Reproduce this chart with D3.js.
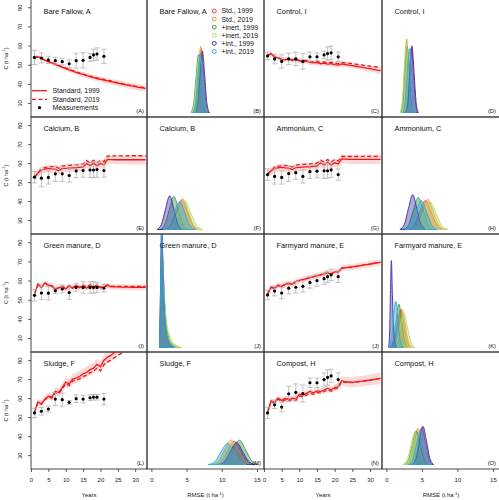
<!DOCTYPE html>
<html><head><meta charset="utf-8">
<script src="https://cdn.jsdelivr.net/npm/d3@7"></script>
<style>body{margin:0;background:#fff}svg{display:block}text{font-family:"Liberation Sans",Arial,Helvetica,sans-serif}</style>
</head><body><svg id="c" width="499" height="500"></svg>
<script>
// ---------------- data ----------------
const years = [1,2,3,4,5,6,7,8,9,10,11,12,13,14,15,16,17,18,19,20,21,22,23,24,25,26,27,28,29,30,31,32,33];
const measYears = [1,3,5,7,9,11,13,15,17,18,19,21];
const cTicks = [30,40,50,60,70,80];
const yearTicks = [0,5,10,15,20,25,30];
const rmseTicks = [0,5,10,15];
const rowTitles = [["Bare Fallow, A","Control, I"],["Calcium, B","Ammonium, C"],["Green manure, D","Farmyard manure, E"],["Sludge, F","Compost, H"]];
const panelLetters = [["(A)","(B)","(C)","(D)"],["(E)","(F)","(G)","(H)"],["(I)","(J)","(J)","(K)"],["(L)","(M)","(N)","(O)"]];
const variantNames = ["Std., 1999","Std., 2019","+inert, 1999","+inert, 2019","+int., 1999","+int., 2019"];
const variantColors = ["#E8474C","#F29A38","#3E9B4A","#B5DB6A","#3B2FA8","#2FA9E0"];
const lineLegend = ["Standard, 1999","Standard, 2019","Measurements"];

// Bare fallow
const bfMeas = [53.8,53.5,52.5,52.1,51.6,50.5,52.1,52.3,53.8,55.1,55.6,54.4];
const bfErr  = [3.7,2.6,1.9,1.8,1.7,2.0,3.9,4.0,2.2,3.0,3.2,3.7];
const bf1999 = [53.5,54.2,53.3,52.4,51.6,50.9,50.2,49.4,48.7,48.0,47.3,46.7,46.0,45.4,44.9,44.3,43.8,43.3,42.8,42.4,42.0,41.6,41.2,40.8,40.4,40.0,39.6,39.2,38.9,38.5,38.2,37.9,37.6];
const bf2019 = [53.5,54.2,53.3,52.5,51.7,51.0,50.3,49.6,48.9,48.2,47.5,46.9,46.3,45.7,45.1,44.6,44.1,43.6,43.1,42.7,42.3,41.9,41.5,41.1,40.7,40.3,39.9,39.5,39.2,38.8,38.5,38.2,37.9];
const bfBand = [1.0,1.0,1.0,1.0,1.1,1.1,1.1,1.1,1.2,1.2,1.2,1.2,1.3,1.3,1.3,1.3,1.4,1.4,1.4,1.4,1.5,1.5,1.5,1.5,1.6,1.6,1.6,1.6,1.7,1.7,1.7,1.8,1.8];
// Control
const ctMeas = [54.6,53.0,51.7,53.0,53.0,51.7,54.1,54.1,55.1,55.8,56.2,54.1];
const ctErr  = [2.0,2.5,3.5,3.0,3.5,4.0,2.5,2.0,2.0,3.5,3.5,2.5];
const ct1999 = [54.7,55.8,54.1,53.5,52.8,52.5,53.0,52.3,52.6,52.0,51.6,51.9,51.2,51.0,51.2,50.5,50.8,50.3,50.6,50.0,49.8,50.4,50.1,49.8,49.5,49.2,48.9,48.6,48.2,47.9,47.6,47.2,46.9];
const ct2019 = [54.7,55.8,54.1,53.6,52.9,52.7,53.2,52.5,52.9,52.3,52.0,52.3,51.7,51.5,51.7,51.1,51.4,51.0,51.3,50.8,50.6,51.2,51.0,50.8,50.5,50.3,50.0,49.8,49.5,49.3,49.0,48.8,48.6];
const ctBand = [1.2,1.2,1.2,1.2,1.2,1.2,1.2,1.2,1.2,1.2,1.3,1.3,1.3,1.3,1.3,1.3,1.3,1.3,1.4,1.4,1.4,1.4,1.4,1.4,1.5,1.5,1.5,1.5,1.5,1.6,1.6,1.6,1.6];
// Calcium
const caMeas = [52.6,52.1,52.5,54.4,54.4,53.5,55.9,56.1,56.4,56.4,56.6,56.1];
const caErr  = [3.0,4.5,3.5,4.0,4.0,3.5,3.5,3.5,4.0,4.0,4.0,3.5];
const ca1999 = [52.6,54.8,56.4,56.8,57.2,57.0,56.9,56.0,57.2,57.3,57.4,57.5,57.6,57.8,58.0,59.8,58.6,60.0,58.6,59.8,59.2,62.0,61.9,61.8,61.8,61.8,61.8,61.8,61.8,61.8,61.8,61.8,61.8];
const ca2019 = [52.6,55.0,57.0,57.6,58.0,58.2,58.2,57.3,58.5,58.7,58.8,59.0,59.1,59.3,59.5,61.3,60.1,61.5,60.2,61.4,60.8,63.7,63.8,63.8,63.8,63.8,63.8,63.9,63.9,63.9,63.9,63.9,63.9];
const caBand = [2.0,2.0,2.0,2.0,2.0,2.0,2.0,2.0,2.0,2.0,2.1,2.1,2.1,2.1,2.1,2.2,2.2,2.2,2.2,2.2,2.3,2.3,2.3,2.3,2.4,2.4,2.4,2.4,2.5,2.5,2.5,2.5,2.5];
// Ammonium
const amMeas = [54.0,53.0,52.5,54.5,55.0,53.0,55.5,55.8,56.0,56.0,56.5,54.0];
const amErr  = [3.0,4.0,3.5,4.0,3.5,3.5,3.5,3.5,4.0,4.0,4.0,3.0];
const am1999 = [54.0,56.0,57.2,57.5,57.8,57.5,57.4,56.6,57.7,57.8,57.9,58.0,58.1,58.3,58.5,60.2,59.0,60.4,59.0,60.2,59.6,62.2,62.1,62.0,62.0,62.0,62.0,62.0,62.0,62.0,62.0,62.0,62.0];
const am2019 = [54.0,56.2,57.8,58.3,58.6,58.7,58.7,57.9,59.0,59.2,59.3,59.5,59.6,59.8,60.0,61.7,60.5,61.9,60.6,61.8,61.2,63.5,63.5,63.5,63.5,63.5,63.5,63.6,63.6,63.6,63.6,63.6,63.6];
const amBand = [2.0,2.0,2.0,2.0,2.0,2.0,2.0,2.0,2.0,2.0,2.1,2.1,2.1,2.1,2.1,2.2,2.2,2.2,2.2,2.2,2.3,2.3,2.3,2.3,2.4,2.4,2.4,2.4,2.5,2.5,2.5,2.5,2.5];
// Green manure
const gmMeas = [52.3,53.5,53.4,54.7,55.6,53.7,56.4,56.4,56.4,56.4,56.4,56.1];
const gmErr  = [3.0,3.5,3.5,1.5,2.0,3.5,2.0,3.0,3.0,3.0,2.5,2.0];
const gm1999 = [53.0,58.0,56.5,58.7,57.6,57.2,55.5,56.2,56.8,55.6,57.2,56.0,57.4,56.2,57.3,56.0,57.5,56.3,57.4,56.2,56.6,57.4,56.8,56.7,56.7,56.6,56.6,56.6,56.5,56.5,56.5,56.5,56.5];
const gm2019 = [53.0,58.0,56.5,58.7,57.6,57.2,55.6,56.3,56.9,55.8,57.4,56.2,57.6,56.5,57.6,56.3,57.8,56.6,57.7,56.5,56.9,57.7,57.1,57.0,57.0,57.0,57.0,56.9,56.9,56.9,56.9,56.9,56.9];
const gmBand = [1.5,1.5,1.5,1.5,1.5,1.5,1.5,1.5,1.5,1.5,1.5,1.5,1.5,1.5,1.5,1.5,1.5,1.5,1.5,1.5,1.5,1.5,1.5,1.5,1.5,1.5,1.5,1.5,1.5,1.5,1.5,1.5,1.5];
// Farmyard manure
const fyMeas = [52.5,54.5,53.5,56.0,56.5,57.0,59.0,60.0,61.0,62.0,63.0,62.0];
const fyErr  = [2.5,2.5,3.0,3.0,3.0,3.0,3.0,3.0,3.0,3.0,3.0,3.0];
const fy1999 = [53.0,56.5,56.0,57.5,57.0,58.0,58.5,58.0,59.5,60.0,60.5,61.0,61.5,62.0,62.5,63.0,63.5,64.0,63.5,64.5,64.5,66.5,66.7,66.9,67.1,67.4,67.7,68.0,68.3,68.6,68.9,69.2,69.5];
const fy2019 = [53.0,56.5,56.0,57.5,57.0,58.0,58.5,58.0,59.5,60.0,60.5,61.0,61.5,62.0,62.5,63.0,63.5,64.0,63.5,64.5,64.5,66.5,66.7,66.9,67.1,67.4,67.7,68.0,68.3,68.6,68.9,69.2,69.5];
const fyBand = [1.5,1.5,1.5,1.5,1.5,1.5,1.5,1.5,1.5,1.5,1.5,1.5,1.5,1.5,1.5,1.5,1.5,1.5,1.5,1.5,1.5,1.6,1.6,1.6,1.6,1.6,1.6,1.6,1.6,1.6,1.6,1.6,1.6];
// Sludge
const slMeas = [52.2,53.1,54.3,59.5,59.2,57.8,59.7,59.5,60.2,60.5,60.5,59.5];
const slErr  = [2.5,2.0,1.5,3.5,3.5,1.0,2.0,2.0,1.5,1.5,1.5,3.0];
const sl1999 = [52.5,58.0,57.0,59.5,61.0,60.5,63.5,63.0,65.5,68.5,67.5,70.0,70.5,71.5,72.8,73.5,75.0,75.8,77.8,76.5,80.0,81.5,82.5,84.0,85.5,86.5,87.5,88.5,89.5,90.5,91.5,92.5,93.5];
const sl2019 = [52.5,57.8,56.8,59.2,60.6,60.0,62.9,62.4,64.8,67.6,66.6,69.0,69.4,70.3,71.5,72.0,73.4,74.0,75.8,74.4,77.6,79.0,80.0,81.3,82.6,83.6,84.6,85.6,86.5,87.4,88.3,89.2,90.0];
const slBand = [1.5,1.6,1.7,1.8,1.9,2.0,2.1,2.2,2.3,2.4,2.5,2.6,2.7,2.8,2.9,3.0,3.0,3.1,3.1,3.2,3.2,3.3,3.3,3.4,3.4,3.5,3.5,3.5,3.5,3.5,3.5,3.5,3.5];
// Compost
const coMeas = [52.2,56.5,55.3,62.3,63.0,62.4,68.1,68.1,69.8,70.9,71.7,69.8];
const coErr  = [3.0,2.0,2.5,4.0,4.5,4.5,2.5,2.5,3.5,4.0,3.5,3.5];
const co1999 = [52.2,58.6,57.9,60.0,58.8,59.8,59.3,60.0,59.6,62.0,61.5,62.5,63.5,62.8,63.8,63.5,64.3,65.2,64.3,65.6,66.0,69.2,68.6,68.5,68.3,68.6,68.8,69.0,69.3,69.5,69.8,70.1,70.4];
const co2019 = [52.2,58.3,57.5,59.5,58.2,59.1,58.6,59.2,58.8,61.2,60.7,61.6,62.6,62.0,63.0,62.7,63.5,64.4,63.6,64.9,65.4,68.8,68.3,68.3,68.2,68.5,68.7,69.0,69.3,69.5,69.8,70.1,70.4];
const coBand = [1.5,1.5,1.5,1.5,1.5,1.5,1.5,1.5,1.5,1.5,1.5,1.5,1.5,1.5,1.6,1.6,1.6,1.6,1.7,1.7,1.8,2.4,2.5,2.6,2.6,2.7,2.7,2.8,2.8,2.9,2.9,3.0,3.0];

// RMSE densities: per variant {x:[RMSE], d:[density]}
const bfRmse = [
 {x:[6.11,6.46,6.77,7.10,7.43,7.74,8.09], d:[0,0.17,0.66,1.10,0.66,0.17,0]},
 {x:[6.01,6.36,6.67,7.00,7.33,7.64,7.99], d:[0,0.17,0.68,1.14,0.68,0.17,0]},
 {x:[5.62,6.00,6.34,6.70,7.06,7.40,7.78], d:[0,0.15,0.60,1.00,0.60,0.15,0]},
 {x:[5.69,6.08,6.43,6.80,7.17,7.52,7.91], d:[0,0.15,0.59,0.98,0.59,0.15,0]},
 {x:[6.26,6.61,6.92,7.25,7.58,7.89,8.24], d:[0,0.16,0.64,1.06,0.64,0.16,0]},
 {x:[5.87,6.25,6.59,6.95,7.31,7.65,8.03], d:[0,0.15,0.60,1.00,0.60,0.15,0]}];
const ctRmse = [
 {x:[2.60,2.92,3.20,3.50,3.80,4.09,4.40], d:[0,0.17,0.67,1.12,0.67,0.17,0]},
 {x:[2.01,2.30,2.57,2.85,3.13,3.40,3.69], d:[0,0.19,0.76,1.27,0.76,0.19,0]},
 {x:[2.00,2.32,2.60,2.90,3.20,3.49,3.80], d:[0,0.17,0.69,1.15,0.69,0.17,0]},
 {x:[1.90,2.22,2.50,2.80,3.10,3.39,3.70], d:[0,0.18,0.72,1.20,0.72,0.18,0]},
 {x:[2.70,3.02,3.30,3.60,3.90,4.19,4.50], d:[0,0.17,0.69,1.15,0.69,0.17,0]},
 {x:[2.29,2.63,2.93,3.25,3.57,3.87,4.21], d:[0,0.17,0.66,1.10,0.66,0.17,0]}];
const caRmse = [
 {x:[1.90,2.74,3.50,4.30,5.10,5.86,6.70], d:[0,0.08,0.30,0.50,0.30,0.08,0]},
 {x:[2.00,2.84,3.60,4.40,5.20,5.96,6.80], d:[0,0.08,0.32,0.53,0.32,0.08,0]},
 {x:[1.25,1.93,2.55,3.20,3.85,4.47,5.15], d:[0,0.09,0.34,0.57,0.34,0.09,0]},
 {x:[2.15,3.04,3.85,4.70,5.55,6.36,7.25], d:[0,0.08,0.30,0.50,0.30,0.08,0]},
 {x:[0.80,1.43,2.00,2.60,3.20,3.77,4.40], d:[0,0.09,0.35,0.58,0.35,0.09,0]},
 {x:[1.75,2.54,3.25,4.00,4.75,5.46,6.25], d:[0,0.07,0.29,0.48,0.29,0.07,0]}];
const amRmse = [
 {x:[3.10,3.94,4.70,5.50,6.30,7.06,7.90], d:[0,0.08,0.30,0.50,0.30,0.08,0]},
 {x:[3.40,4.24,5.00,5.80,6.60,7.36,8.20], d:[0,0.08,0.31,0.52,0.31,0.08,0]},
 {x:[2.40,3.14,3.80,4.50,5.20,5.87,6.60], d:[0,0.08,0.33,0.55,0.33,0.08,0]},
 {x:[3.55,4.44,5.25,6.10,6.95,7.76,8.65], d:[0,0.07,0.29,0.48,0.29,0.07,0]},
 {x:[1.90,2.53,3.10,3.70,4.30,4.87,5.50], d:[0,0.09,0.36,0.60,0.36,0.09,0]},
 {x:[2.65,3.44,4.15,4.90,5.65,6.36,7.15], d:[0,0.08,0.30,0.50,0.30,0.08,0]}];
const gmRmse = [
 {x:[1.20,1.35,1.50,1.65,1.90,2.20,2.80,3.40], d:[0,0.90,1.95,1.45,0.70,0.25,0.06,0]},
 {x:[1.20,1.35,1.50,1.70,1.95,2.30,2.90,3.50], d:[0,0.90,1.90,1.30,0.60,0.22,0.05,0]},
 {x:[1.20,1.35,1.50,1.70,2.00,2.40,3.00,3.80], d:[0,0.85,1.80,1.20,0.55,0.20,0.06,0]},
 {x:[1.20,1.35,1.52,1.75,2.10,2.60,3.30,4.30], d:[0,0.80,1.70,1.10,0.50,0.20,0.06,0]},
 {x:[1.15,1.30,1.45,1.60,1.80,2.10,2.60,3.20], d:[0,1.00,2.10,1.50,0.70,0.25,0.06,0]},
 {x:[1.15,1.30,1.45,1.60,1.85,2.15,2.70,3.30], d:[0,0.95,2.00,1.45,0.65,0.22,0.05,0]}];
const fyRmse = [
 {x:[0.60,1.10,1.55,2.00,2.45,2.90,3.40], d:[0,0.10,0.40,0.66,0.40,0.10,0]},
 {x:[0.80,1.30,1.75,2.20,2.65,3.10,3.60], d:[0,0.10,0.40,0.66,0.40,0.10,0]},
 {x:[0.50,0.95,1.35,1.75,2.15,2.55,3.00], d:[0,0.11,0.45,0.75,0.45,0.11,0]},
 {x:[0.90,1.45,1.95,2.45,2.95,3.45,4.00], d:[0,0.09,0.36,0.60,0.36,0.09,0]},
 {x:[0.30,0.45,0.58,0.70,0.85,1.05,1.40], d:[0,0.25,1.00,1.50,0.90,0.25,0]},
 {x:[0.40,0.70,1.00,1.30,1.60,1.95,2.40], d:[0,0.12,0.50,0.80,0.50,0.12,0]}];
const slRmse = [
 {x:[9.10,10.05,10.90,11.80,12.70,13.55,14.50], d:[0,0.06,0.24,0.40,0.24,0.06,0]},
 {x:[8.60,9.55,10.40,11.30,12.20,13.05,14.00], d:[0,0.06,0.25,0.42,0.25,0.06,0]},
 {x:[9.80,10.75,11.60,12.50,13.40,14.25,15.20], d:[0,0.06,0.25,0.42,0.25,0.06,0]},
 {x:[8.65,9.65,10.55,11.50,12.45,13.35,14.35], d:[0,0.06,0.23,0.38,0.23,0.06,0]},
 {x:[9.55,10.44,11.25,12.10,12.95,13.76,14.65], d:[0,0.06,0.23,0.38,0.23,0.06,0]},
 {x:[8.10,9.05,9.90,10.80,11.70,12.55,13.50], d:[0,0.05,0.22,0.36,0.22,0.05,0]}];
const coRmse = [
 {x:[3.50,4.03,4.50,5.00,5.50,5.98,6.50], d:[0,0.10,0.38,0.64,0.38,0.10,0]},
 {x:[2.80,3.38,3.90,4.45,5.00,5.52,6.10], d:[0,0.09,0.37,0.62,0.37,0.09,0]},
 {x:[2.55,3.13,3.65,4.20,4.75,5.27,5.85], d:[0,0.09,0.35,0.58,0.35,0.09,0]},
 {x:[2.35,2.93,3.45,4.00,4.55,5.07,5.65], d:[0,0.08,0.33,0.55,0.33,0.08,0]},
 {x:[3.65,4.18,4.65,5.15,5.65,6.13,6.65], d:[0,0.10,0.40,0.66,0.40,0.10,0]},
 {x:[3.15,3.73,4.25,4.80,5.35,5.87,6.45], d:[0,0.09,0.36,0.60,0.36,0.09,0]}];

// ---------------- layout ----------------
const xEdges = [31,147,264,382,500];
const yEdges = [-1,117,234,352,469];
const svg = d3.select("#c");
const FONT = '"Liberation Sans",Arial,Helvetica,sans-serif';

const timeSeries = [
  [ {m:bfMeas,e:bfErr,a:bf1999,b:bf2019,w:bfBand}, {m:ctMeas,e:ctErr,a:ct1999,b:ct2019,w:ctBand} ],
  [ {m:caMeas,e:caErr,a:ca1999,b:ca2019,w:caBand}, {m:amMeas,e:amErr,a:am1999,b:am2019,w:amBand} ],
  [ {m:gmMeas,e:gmErr,a:gm1999,b:gm2019,w:gmBand}, {m:fyMeas,e:fyErr,a:fy1999,b:fy2019,w:fyBand} ],
  [ {m:slMeas,e:slErr,a:sl1999,b:sl2019,w:slBand}, {m:coMeas,e:coErr,a:co1999,b:co2019,w:coBand} ]
];
const densities = [[bfRmse,ctRmse],[caRmse,amRmse],[gmRmse,fyRmse],[slRmse,coRmse]];

const defs = svg.append("defs");

for (let r = 0; r < 4; r++) {
  for (let c = 0; c < 4; c++) {
    const x0 = xEdges[c], x1 = xEdges[c+1], y0 = yEdges[r], y1 = yEdges[r+1];
    const id = "clip" + r + "_" + c;
    defs.append("clipPath").attr("id", id).append("rect")
      .attr("x", x0).attr("y", Math.max(y0,0)).attr("width", x1 - x0).attr("height", y1 - Math.max(y0,0));
    const g = svg.append("g");
    const pg = g.append("g").attr("clip-path", `url(#${id})`);
    const isTime = (c % 2 === 0);
    const pair = Math.floor(c / 2);
    if (isTime) {
      const ts = timeSeries[r][pair];
      const xs = d3.scaleLinear().domain([0,33.4]).range([x0,x1]);
      const ys = d3.scaleLinear().domain([22.7,84.3]).range([y1,y0]);
      const band = d3.area().x((d,i)=>xs(years[i])).y0((d,i)=>ys(ts.a[i]-ts.w[i])).y1((d,i)=>ys(ts.a[i]+ts.w[i]));
      pg.append("path").attr("d", band(years)).attr("fill","rgba(242,80,80,0.22)");
      const line = arr => d3.line().x((d,i)=>xs(years[i])).y((d,i)=>ys(arr[i]))(years);
      pg.append("path").attr("d", line(ts.b)).attr("fill","none").attr("stroke","#F01818").attr("stroke-width",1.3).attr("stroke-dasharray","4,2.5");
      pg.append("path").attr("d", line(ts.a)).attr("fill","none").attr("stroke","#F01818").attr("stroke-width",1.3);
      // error bars
      measYears.forEach((yr,i)=>{
        const cx = xs(yr), lo = ys(ts.m[i]-ts.e[i]), hi = ys(ts.m[i]+ts.e[i]);
        pg.append("line").attr("x1",cx).attr("x2",cx).attr("y1",lo).attr("y2",hi).attr("stroke","#b0b0b0").attr("stroke-width",0.8);
        [lo,hi].forEach(yy=>pg.append("line").attr("x1",cx-2.6).attr("x2",cx+2.6).attr("y1",yy).attr("y2",yy).attr("stroke","#b0b0b0").attr("stroke-width",0.8));
      });
      pg.selectAll("circle.m").data(measYears).enter().append("circle")
        .attr("cx",d=>xs(d)).attr("cy",(d,i)=>ys(ts.m[i])).attr("r",1.6).attr("fill","#000");
      if (c === 0) {
        const ax = g.append("g").attr("transform",`translate(${x0},0)`)
          .call(d3.axisLeft(ys).tickValues(cTicks).tickSize(3).tickFormat(d3.format("d")));
        ax.select(".domain").remove();
        ax.selectAll("line").attr("stroke","#333").attr("stroke-width",0.8);
        ax.selectAll("text").attr("transform","rotate(-90)").attr("x",0).attr("y",-8.7).attr("dy",0)
          .attr("text-anchor","middle").attr("font-size",6).attr("font-family",FONT).attr("fill","#222");
        ax.attr("font-size",null).attr("font-family",null);
        const yc = (Math.max(y0,0)+y1)/2;
        const t = svg.append("text").attr("transform",`translate(7.5,${yc}) rotate(-90)`).attr("text-anchor","middle")
          .attr("font-size",5.6).attr("fill","#222");
        t.append("tspan").text("C (t ha");
        t.append("tspan").attr("font-size",4).attr("dy",-2.2).text("-1");
        t.append("tspan").attr("dy",2.2).text(")");
      }
      if (r === 3) {
        const ax = g.append("g").attr("transform",`translate(0,${y1})`)
          .call(d3.axisBottom(xs).tickValues(yearTicks).tickSize(3).tickPadding(5.5));
        ax.select(".domain").remove();
        ax.selectAll("line").attr("stroke","#333").attr("stroke-width",0.8);
        ax.selectAll("text").attr("font-size",6).attr("font-family",FONT).attr("fill","#222");
        svg.append("text").attr("x",(x0+x1)/2).attr("y",497).attr("text-anchor","middle").attr("font-size",6).attr("fill","#222").text("Years");
      }
    } else {
      const dens = densities[r][pair];
      const xs = d3.scaleLinear().domain([-0.62,16.0]).range([x0,x1]);
      const base = y1 - 4.5;
      const ys = d3.scaleLinear().domain([0,1]).range([base, base-58]);
      const area = d3.area().curve(d3.curveMonotoneX).x(p=>xs(p[0])).y0(base).y1(p=>ys(p[1]));
      dens.forEach((v,k)=>{
        const pts = v.x.map((xx,j)=>[xx, v.d[j]]);
        pg.append("path").attr("d", area(pts)).attr("fill", variantColors[k]).attr("fill-opacity",0.42)
          .attr("stroke", variantColors[k]).attr("stroke-width",0.9);
      });
      if (r === 3) {
        const ax = g.append("g").attr("transform",`translate(0,${y1})`)
          .call(d3.axisBottom(xs).tickValues(rmseTicks).tickSize(3).tickPadding(5.5));
        ax.select(".domain").remove();
        ax.selectAll("line").attr("stroke","#333").attr("stroke-width",0.8);
        ax.selectAll("text").attr("font-size",6).attr("font-family",FONT).attr("fill","#222");
        const t = svg.append("text").attr("x",(x0+x1)/2).attr("y",497).attr("text-anchor","middle").attr("font-size",6).attr("fill","#222");
        t.append("tspan").text("RMSE (t ha");
        t.append("tspan").attr("font-size",4).attr("dy",-2.2).text("-1");
        t.append("tspan").attr("dy",2.2).text(")");
      }
    }
    // box
    g.append("rect").attr("x",x0).attr("y",y0).attr("width",x1-x0).attr("height",y1-y0)
      .attr("fill","none").attr("stroke","#333").attr("stroke-width",0.9);
    // title & letter
    g.append("text").attr("x",x0+12.5).attr("y",Math.max(y0,0)+13.5).attr("font-size",7.4).attr("fill","#111").text(rowTitles[r][pair]);
    g.append("text").attr("x",Math.min(x1,499)-3).attr("y",y1-4).attr("text-anchor","end").attr("font-size",5.8).attr("fill","#111").text(panelLetters[r][c]);
  }
}

// legend in panel A
const lgA = svg.append("g");
const rowsA = [90.7, 99.3, 107.7];
lineLegend.forEach((name,i)=>{
  const yy = rowsA[i];
  if (i < 2) {
    lgA.append("line").attr("x1",32).attr("x2",47).attr("y1",yy).attr("y2",yy).attr("stroke","#F01818").attr("stroke-width",1.3)
      .attr("stroke-dasharray", i===1 ? "4,2.5" : null);
  } else {
    lgA.append("circle").attr("cx",39.5).attr("cy",yy).attr("r",1.6).attr("fill","#000");
  }
  lgA.append("text").attr("x",52.5).attr("y",yy+2.4).attr("font-size",6.9).attr("fill","#111").text(name);
});
// legend in panel B
const lgB = svg.append("g");
const rowsB = [11, 19.1, 27.2, 35.3, 43.4, 51.5];
variantNames.forEach((name,i)=>{
  lgB.append("circle").attr("cx",214.3).attr("cy",rowsB[i]).attr("r",1.9).attr("fill","none").attr("stroke",variantColors[i]).attr("stroke-width",1);
  lgB.append("text").attr("x",221.5).attr("y",rowsB[i]+2.4).attr("font-size",6.9).attr("fill","#111").text(name);
});
</script></body></html>
